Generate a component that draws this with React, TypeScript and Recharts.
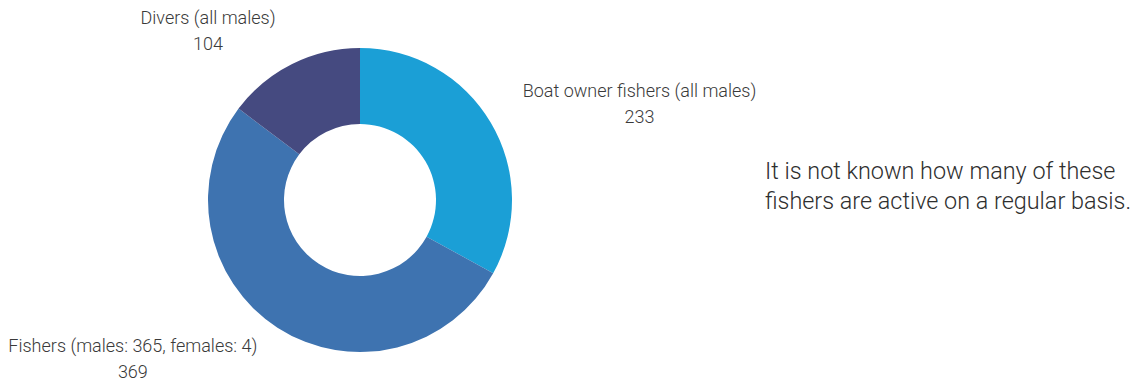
import { PieChart, Pie, Cell } from 'recharts';

const names = ['Boat owner fishers (all males)', 'Fishers (males: 365, females: 4)', 'Divers (all males)'];
const values = [233, 369, 104];
const colors = ['#1b9fd6', '#3e73b0', '#454a80'];
const note = ['It is not known how many of these', 'fishers are active on a regular basis.'];

const FONT = 'Roboto, "Noto Sans", sans-serif';
const LABEL_SIZE = 18;
const RAD = Math.PI / 180;

let measureCtx: CanvasRenderingContext2D | null = null;
function textWidth(s: string, size: number) {
  if (!measureCtx) measureCtx = document.createElement('canvas').getContext('2d');
  if (!measureCtx) return s.length * size * 0.5;
  measureCtx.font = `300 ${size}px Roboto`;
  return measureCtx.measureText(s).width;
}

function SliceLabel(props: any) {
  const { cx, cy, midAngle, outerRadius, index } = props;
  const r = outerRadius + 37;
  const x = cx + r * Math.cos(-midAngle * RAD);
  const y = cy + r * Math.sin(-midAngle * RAD);
  const right = x > cx;
  const name = names[index];
  const w = textWidth(name, LABEL_SIZE);
  const mid = right ? x + w / 2 : x - w / 2;
  return (
    <g fontFamily={FONT} fontSize={LABEL_SIZE} fontWeight={300} fill="#3a3a3a">
      <text x={x} y={y - 13} textAnchor={right ? 'start' : 'end'} dominantBaseline="central">
        {name}
      </text>
      <text x={mid} y={y + 13} textAnchor="middle" dominantBaseline="central">
        {values[index]}
      </text>
    </g>
  );
}

export default function App() {
  const data = names.map((name, i) => ({ name, value: values[i] }));
  return (
    <div style={{ position: 'absolute', left: 0, top: 0, width: 1138, height: 385, background: '#fff' }}>
      <PieChart width={1138} height={385} margin={{ top: 0, right: 0, bottom: 0, left: 0 }}>
        <Pie
          data={data}
          dataKey="value"
          cx={360}
          cy={200}
          innerRadius={76}
          outerRadius={152}
          startAngle={90}
          endAngle={-270}
          stroke="none"
          label={SliceLabel}
          labelLine={false}
          isAnimationActive={false}
        >
          {data.map((d, i) => (
            <Cell key={d.name} fill={colors[i]} />
          ))}
        </Pie>
      </PieChart>
      <div
        style={{
          position: 'absolute',
          left: 765,
          top: 156,
          fontFamily: FONT,
          fontSize: 23.4,
          fontWeight: 300,
          lineHeight: '30px',
          color: '#2e2e2e',
          whiteSpace: 'nowrap',
        }}
      >
        {note.map((l) => (
          <div key={l}>{l}</div>
        ))}
      </div>
    </div>
  );
}
